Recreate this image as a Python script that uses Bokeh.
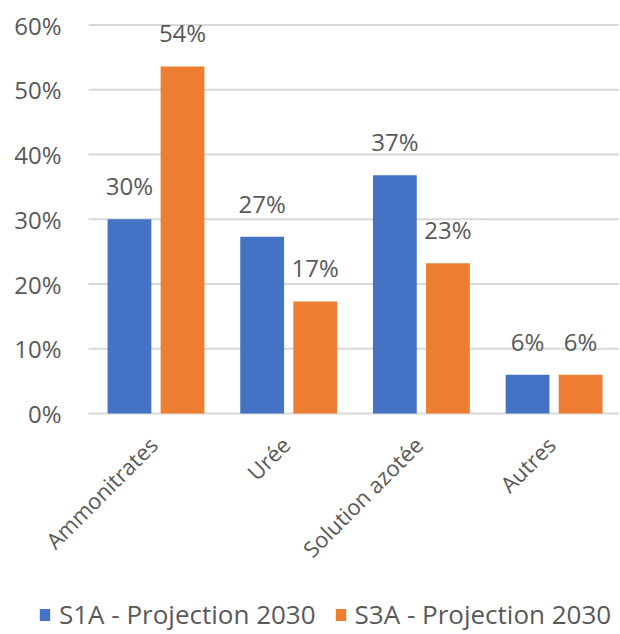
import math
from bokeh.plotting import figure
from bokeh.models import ColumnDataSource, LabelSet, Legend, LegendItem, Range1d
from bokeh.core.properties import value
from bokeh.embed import file_html
from bokeh.resources import INLINE

categories = ["Ammonitrates", "Urée", "Solution azotée", "Autres"]
s1a = [30.0, 27.3, 36.8, 6.0]
s3a = [53.6, 17.3, 23.2, 6.0]
series_names = ["S1A - Projection 2030", "S3A - Projection 2030"]
y_ticks = [0, 10, 20, 30, 40, 50, 60]
y_tick_labels = [f"{t}%" for t in y_ticks]

FONT = "Open Sans"
GREY = "#595959"
BLUE = "#4472C4"
ORANGE = "#ED7D31"
GRID = "#D9D9D9"

# layout (pixels)
W, H = 619, 632
PX_PER_CAT = 132.7
FIRST_CENTER_PX = 155.5
GRID_LEFT_PX = 88
PX_PER_UNIT = 388.5 / 60
TOP_GRID_PX = 24.5

X0 = -FIRST_CENTER_PX / PX_PER_CAT
X1 = X0 + W / PX_PER_CAT
Y1 = 60 + TOP_GRID_PX / PX_PER_UNIT
Y0 = Y1 - H / PX_PER_UNIT
GX0 = X0 + GRID_LEFT_PX / PX_PER_CAT

idx = list(range(len(categories)))
src = ColumnDataSource(dict(
    cat=categories,
    xc=idx,
    x1=[i - 0.2 for i in idx],
    x2=[i + 0.2 for i in idx],
    zero=[0] * len(categories),
    s1a=s1a,
    s3a=s3a,
    s1a_lbl=[f"{round(v)}%" for v in s1a],
    s3a_lbl=[f"{round(v)}%" for v in s3a],
))
tick_src = ColumnDataSource(dict(y=y_ticks, lbl=y_tick_labels,
                                 gx0=[GX0] * len(y_ticks), gx1=[X1] * len(y_ticks)))

p = figure(width=W, height=H, x_range=Range1d(X0, X1), y_range=Range1d(Y0, Y1),
           x_axis_location=None, y_axis_location=None,
           output_backend="svg", toolbar_location=None, min_border=0)
p.outline_line_color = None
p.grid.visible = False

# gridlines
p.segment(x0="gx0", y0="y", x1="gx1", y1="y", source=tick_src, line_color=GRID, line_width=2)

# y tick labels
p.add_layout(LabelSet(x=61, x_units="screen", y="y", text="lbl", source=tick_src,
                      text_align="right", text_baseline="middle",
                      text_font=value(FONT), text_font_size="24px", text_color=GREY))

r1 = p.vbar(x="x1", top="s1a", width=0.33, source=src, fill_color=BLUE, line_color=None)
r2 = p.vbar(x="x2", top="s3a", width=0.33, source=src, fill_color=ORANGE, line_color=None)

for col, xcol in (("s1a", "x1"), ("s3a", "x2")):
    p.add_layout(LabelSet(x=xcol, y=col, text=col + "_lbl", source=src,
                          text_align="center", text_baseline="bottom", y_offset=17,
                          text_font=value(FONT), text_font_size="24px", text_color=GREY))

# category labels (rotated)
p.add_layout(LabelSet(x="xc", y="zero", text="cat", source=src, angle=math.pi / 4,
                      text_align="right", text_baseline="middle", x_offset=-3, y_offset=-27,
                      text_font=value(FONT), text_font_size="22px", text_color=GREY))

legend = Legend(items=[LegendItem(label=series_names[0], renderers=[r1]),
                       LegendItem(label=series_names[1], renderers=[r2])],
                orientation="horizontal", location=(38, 0),
                label_text_font=FONT, label_text_font_size="26px", label_text_color=GREY,
                glyph_width=13, glyph_height=15, label_standoff=8, spacing=18,
                border_line_color=None, background_fill_alpha=0, margin=0, padding=0)
p.add_layout(legend, "center")

open("out.html", "w").write(file_html(p, INLINE))
